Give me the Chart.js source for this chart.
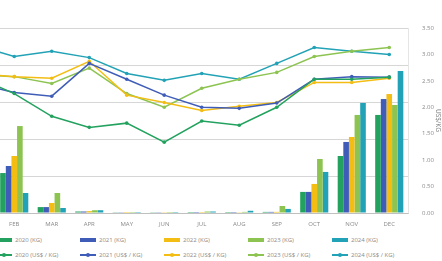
<!DOCTYPE html>
<html>
<head>
<meta charset="utf-8">
<script src="https://cdn.jsdelivr.net/npm/chart.js@4.4.1/dist/chart.umd.min.js"></script>
<style>
    html, body {
        margin: 0;
        padding: 0;
        width: 442px;
        height: 261px;
        overflow: hidden;
        background: #fff;
        font-family: 'Open Sans', sans-serif;
    }
    .viewport {
        position: absolute;
        left: 0;
        top: 0;
        width: 442px;
        height: 232px;
        overflow: hidden;
    }
    .chart-wrap {
        position: absolute;
        left: 0;
        top: 0;
        width: 542px;
        height: 232px;
        transform: translateX(-100px);
    }
    .legend {
        position: absolute;
        left: -4px;
        top: 232px;
        width: 446px;
        overflow: hidden;
    }
    .legend-row {
        display: flex;
        height: 15px;
        align-items: center;
    }
    .legend-item {
        flex: 0 0 84px;
        display: flex;
        align-items: center;
        font-size: 6px;
        color: #8a8a8a;
        white-space: nowrap;
    }
    .swatch {
        position: relative;
        width: 16px;
        height: 6px;
        margin-right: 3px;
    }
    .swatch .bar {
        position: absolute;
        left: 0;
        top: 1px;
        width: 16px;
        height: 4px;
    }
    .swatch .line {
        position: absolute;
        left: 0;
        top: 2.5px;
        width: 16px;
        height: 1.5px;
    }
    .swatch .dot {
        position: absolute;
        left: 6px;
        top: 1px;
        width: 4px;
        height: 4px;
        border-radius: 50%;
    }
</style>
</head>
<body>
<div class="viewport"><div class="chart-wrap"><canvas id="chart"></canvas></div></div>
<div class="legend" id="legend"></div>
<script>
// Categories
const months = ['JAN', 'FEB', 'MAR', 'APR', 'MAY', 'JUN', 'JUL', 'AUG', 'SEP', 'OCT', 'NOV', 'DEC'];

// Volumes (left axis, KG)
const kg2020 = [4.5, 2.16, 0.32, 0.08, 0.04, 0.04, 0.05, 0.05, 0.06, 1.14, 3.08, 5.30];
const kg2021 = [5.0, 2.54, 0.32, 0.08, 0.04, 0.04, 0.05, 0.05, 0.06, 1.14, 3.84, 6.16];
const kg2022 = [5.5, 3.08, 0.54, 0.10, 0.05, 0.04, 0.05, 0.04, 0.06, 1.57, 4.11, 6.43];
const kg2023 = [6.0, 4.70, 1.08, 0.15, 0.05, 0.05, 0.08, 0.06, 0.38, 2.92, 5.30, 5.84];
const kg2024 = [3.0, 1.08, 0.27, 0.15, 0.05, 0.05, 0.08, 0.12, 0.22, 2.22, 5.95, 7.68];

// Prices (right axis, US$ / KG)
const usd2020 = [2.57, 2.26, 1.83, 1.62, 1.70, 1.34, 1.74, 1.66, 2.00, 2.53, 2.53, 2.57];
const usd2021 = [2.45, 2.28, 2.21, 2.83, 2.53, 2.23, 2.00, 1.98, 2.08, 2.53, 2.58, 2.57];
const usd2022 = [2.64, 2.58, 2.55, 2.87, 2.23, 2.09, 1.94, 2.02, 2.09, 2.47, 2.47, 2.55];
const usd2023 = [2.62, 2.58, 2.45, 2.74, 2.26, 2.00, 2.36, 2.53, 2.66, 2.96, 3.06, 3.13];
const usd2024 = [3.17, 2.96, 3.06, 2.94, 2.64, 2.51, 2.64, 2.53, 2.83, 3.13, 3.06, 3.00];

const years = ['2020', '2021', '2022', '2023', '2024'];
const colors = ['#22a25e', '#3f5db8', '#f3bd14', '#8dc451', '#22a2b6'];
const kgSeries = [kg2020, kg2021, kg2022, kg2023, kg2024];
const usdSeries = [usd2020, usd2021, usd2022, usd2023, usd2024];

const tickFont = { family: 'Open Sans', size: 6 };
const gridColor = '#d6d6d6';

const datasets = [];
years.forEach((year, i) => {
    datasets.push({
        type: 'bar',
        label: year + ' (KG)',
        data: kgSeries[i],
        backgroundColor: colors[i],
        yAxisID: 'yKg',
        order: 2,
        categoryPercentage: 0.75,
        barPercentage: 1
    });
});
years.forEach((year, i) => {
    datasets.push({
        type: 'line',
        label: year + ' (US$ / KG)',
        data: usdSeries[i],
        borderColor: colors[i],
        backgroundColor: colors[i],
        borderWidth: 1.5,
        pointRadius: 1.8,
        pointBorderWidth: 0,
        tension: 0,
        fill: false,
        yAxisID: 'yUsd',
        order: 1
    });
});

const chart = new Chart(document.getElementById('chart'), {
    data: {
        labels: months,
        datasets: datasets
    },
    options: {
        responsive: true,
        maintainAspectRatio: false,
        animation: false,
        layout: {
            padding: { top: 28, left: 0, right: 0, bottom: 0 }
        },
        plugins: {
            legend: { display: false },
            tooltip: { enabled: false }
        },
        scales: {
            x: {
                grid: { display: false },
                ticks: {
                    color: '#8a8a8a',
                    font: tickFont,
                    padding: 0,
                    maxRotation: 0
                },
                afterFit: scale => { scale.height = 19; }
            },
            yKg: {
                position: 'left',
                min: 0,
                max: 10,
                ticks: {
                    stepSize: 2,
                    color: '#8a8a8a',
                    font: tickFont
                },
                grid: { color: gridColor },
                afterFit: scale => { scale.width = 58; }
            },
            yUsd: {
                position: 'right',
                min: 0,
                max: 3.5,
                ticks: {
                    stepSize: 0.5,
                    color: '#8a8a8a',
                    font: tickFont,
                    padding: 6,
                    callback: value => value.toFixed(2)
                },
                grid: { display: false },
                title: {
                    display: true,
                    text: 'US$/KG',
                    color: '#7a7a7a',
                    font: { family: 'Open Sans', size: 6.5 },
                    padding: 0
                },
                afterFit: scale => { scale.width = 34; }
            }
        }
    }
});

// HTML legend built from the chart datasets (5 columns, bars row then lines row)
function buildLegend() {
    const legend = document.getElementById('legend');
    const rows = [chart.data.datasets.filter(d => d.type === 'bar'),
                  chart.data.datasets.filter(d => d.type === 'line')];
    rows.forEach(row => {
        const rowEl = document.createElement('div');
        rowEl.className = 'legend-row';
        row.forEach(ds => {
            const item = document.createElement('div');
            item.className = 'legend-item';
            const sw = document.createElement('span');
            sw.className = 'swatch';
            if (ds.type === 'bar') {
                const b = document.createElement('span');
                b.className = 'bar';
                b.style.background = ds.backgroundColor;
                sw.appendChild(b);
            } else {
                const l = document.createElement('span');
                l.className = 'line';
                l.style.background = ds.borderColor;
                const d = document.createElement('span');
                d.className = 'dot';
                d.style.background = ds.borderColor;
                sw.appendChild(l);
                sw.appendChild(d);
            }
            item.appendChild(sw);
            const txt = document.createElement('span');
            txt.textContent = ds.label;
            item.appendChild(txt);
            rowEl.appendChild(item);
        });
        legend.appendChild(rowEl);
    });
}

buildLegend();
</script>
</body>
</html>
